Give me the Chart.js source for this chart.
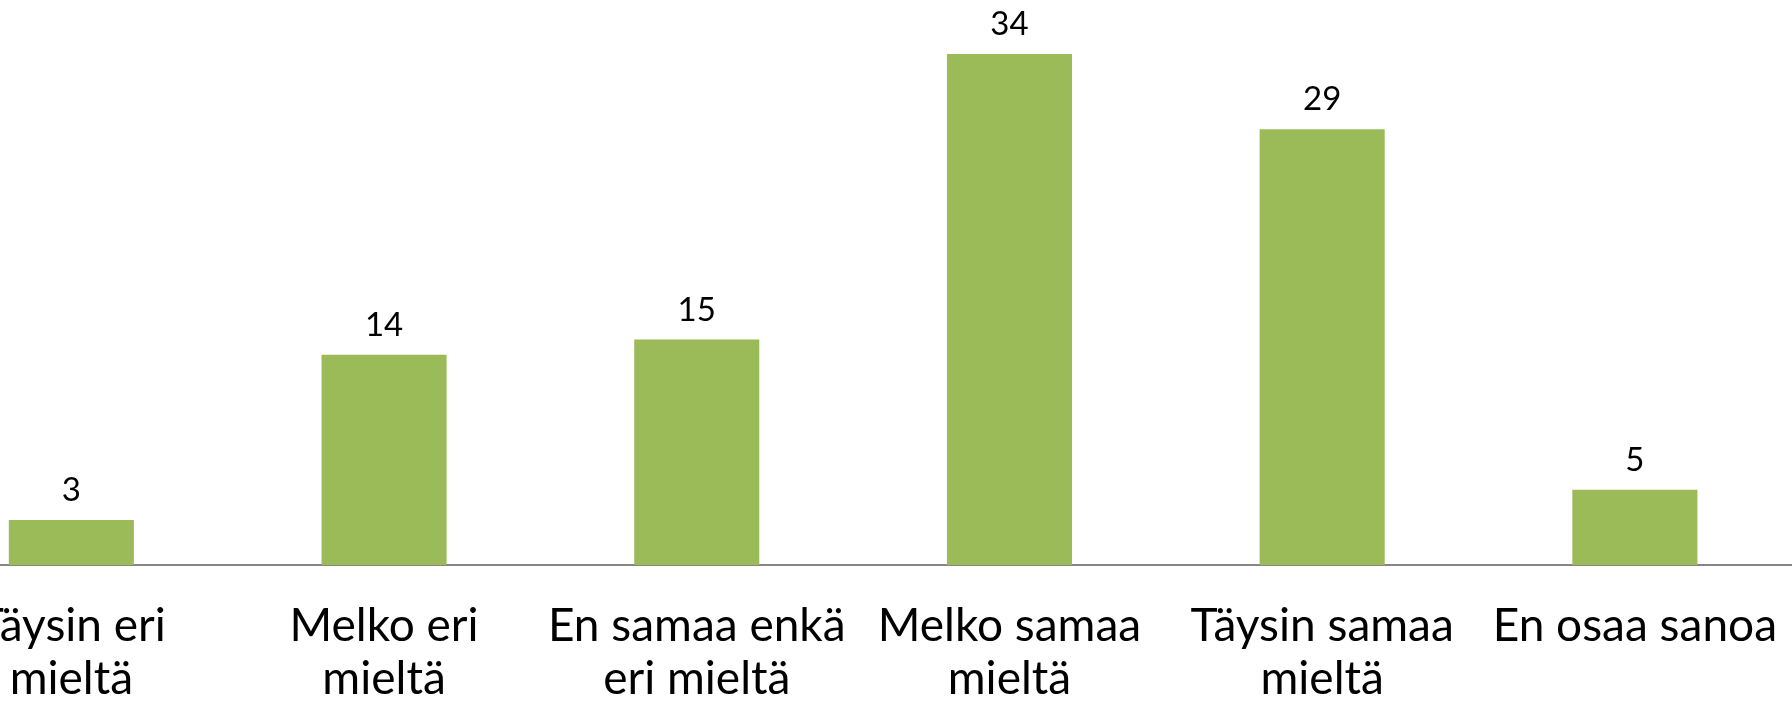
<!DOCTYPE html>
<html>
<head>
<meta charset="utf-8">
<script src="https://cdn.jsdelivr.net/npm/chart.js@4/dist/chart.umd.min.js"></script>
<style>
  html, body { margin: 0; padding: 0; background: #fff; overflow: hidden; }
  /* the original picture is cropped on the left, so the canvas starts off-screen */
  #wrap { position: absolute; left: -85px; top: 0; width: 1897px; height: 711px; }
</style>
</head>
<body>
<div id="wrap"><canvas id="chart" width="1897" height="711"></canvas></div>
<script>
// --- data ---
const categories = [
    ['Täysin eri', 'mieltä'],
    ['Melko eri', 'mieltä'],
    ['En samaa enkä', 'eri mieltä'],
    ['Melko samaa', 'mieltä'],
    ['Täysin samaa', 'mieltä'],
    'En osaa sanoa'
];
const values = [3, 14, 15, 34, 29, 5];
const yMax = 37.6;

const BAR_GREEN = '#9BBB59';

// simple value labels above each bar
const valueLabels = {
    id: 'valueLabels',
    afterDatasetsDraw(chart) {
        const ctx = chart.ctx;
        const meta = chart.getDatasetMeta(0);
        ctx.save();
        ctx.font = '33px Lato';
        ctx.fillStyle = '#000';
        ctx.textAlign = 'center';
        ctx.textBaseline = 'alphabetic';
        meta.data.forEach((bar, i) => {
            ctx.fillText(String(values[i]), bar.x, bar.y - 19);
        });
        ctx.restore();
    }
};

new Chart(document.getElementById('chart'), {
    type: 'bar',
    data: {
        labels: categories,
        datasets: [{
            data: values,
            backgroundColor: BAR_GREEN,
            barPercentage: 0.4,
            categoryPercentage: 1.0
        }]
    },
    options: {
        responsive: false,
        animation: false,
        devicePixelRatio: 1,
        layout: { padding: 0 },
        plugins: {
            legend: { display: false },
            tooltip: { enabled: false }
        },
        scales: {
            x: {
                grid: { display: false, drawTicks: false },
                border: { display: true, color: '#868686', width: 2 },
                ticks: {
                    color: '#000',
                    padding: 35,
                    maxRotation: 0,
                    autoSkip: false,
                    font: { family: 'Lato', size: 46, lineHeight: 1.15 }
                },
                afterFit: s => { s.height = 146; }
            },
            y: {
                display: false,
                min: 0,
                max: yMax
            }
        }
    },
    plugins: [valueLabels]
});
</script>
</body>
</html>
